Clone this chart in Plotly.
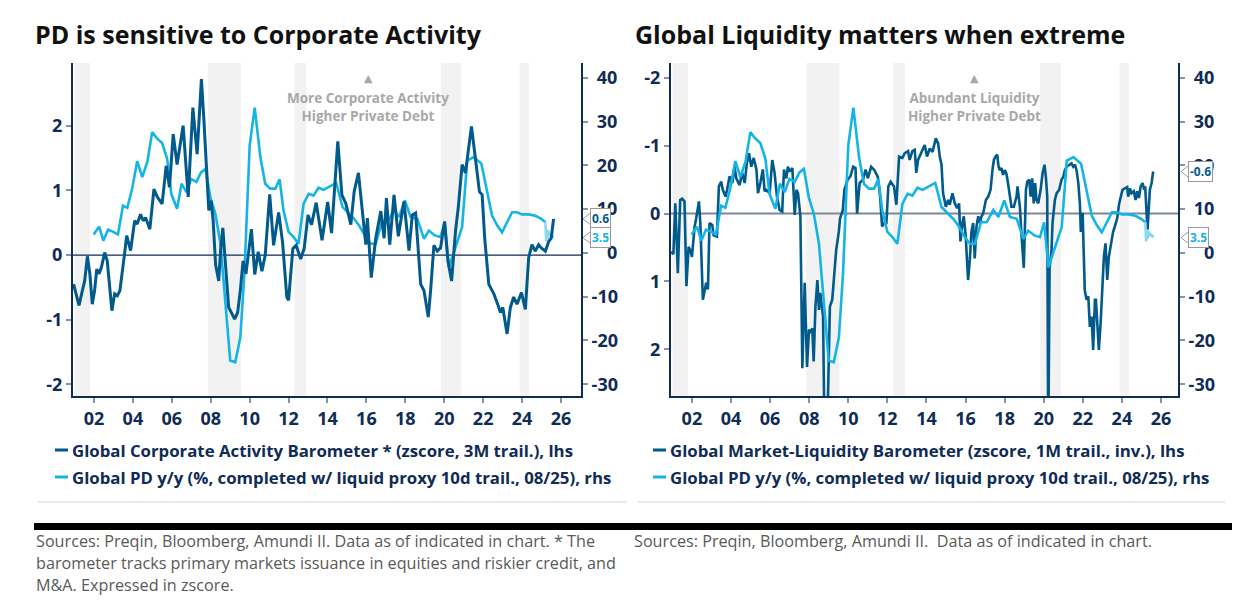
import plotly.graph_objects as go

# ---------------- DATA ----------------
tick_years = [2002, 2004, 2006, 2008, 2010, 2012, 2014, 2016, 2018, 2020, 2022, 2024, 2026]
tick_labels = ["02", "04", "06", "08", "10", "12", "14", "16", "18", "20", "22", "24", "26"]

rhs_ticks = [-30, -20, -10, 0, 10, 20, 30, 40]
rhs_labels = ["-30", "-20", "-10", "\u2007\u20080", "\u200810", "\u200820", "\u200830", "\u200840"]
lhs_ticks = [-2, -1, 0, 1, 2]
lhs_labels = ["-2", "-1", "0", "1", "2"]

# shaded periods (start, end) in decimal years
shade_start = [2001.0, 2007.85, 2012.3, 2019.82, 2023.88]
shade_end = [2001.8, 2009.55, 2012.9, 2020.88, 2024.35]

# Global PD y/y (%), rhs
pd_dates = [2001.98, 2002.26, 2002.48, 2002.72, 2002.99, 2003.23, 2003.49, 2003.71, 2003.97, 2004.22,
            2004.48, 2004.74, 2004.99, 2005.25, 2005.50, 2005.76, 2005.97, 2006.27, 2006.50, 2006.75,
            2006.99, 2007.26, 2007.50, 2007.73, 2007.98, 2008.24, 2008.50, 2008.70, 2009.00, 2009.26,
            2009.52, 2009.73, 2010.00, 2010.26, 2010.55, 2010.80, 2011.06, 2011.32, 2011.54, 2011.74,
            2012.00, 2012.26, 2012.51, 2012.77, 2013.03, 2013.28, 2013.54, 2013.80, 2014.05, 2014.45,
            2014.77, 2015.11, 2015.37, 2015.62, 2015.97, 2016.22, 2016.48, 2016.79, 2017.08, 2017.42,
            2017.68, 2017.98, 2018.27, 2018.62, 2018.96, 2019.21, 2019.52, 2019.81, 2020.02, 2020.24,
            2020.58, 2020.92, 2021.18, 2021.52, 2021.91, 2022.12, 2022.46, 2022.72, 2022.97, 2023.23,
            2023.49, 2023.74, 2024.00, 2024.34, 2024.68, 2024.99, 2025.20]
pd_values = [4.2, 6.0, 2.8, 5.3, 4.8, 4.2, 10.8, 10.3, 14.9, 21.0,
             17.3, 20.8, 27.6, 26.1, 25.1, 21.5, 13.5, 10.1, 15.8, 13.9,
             16.9, 16.2, 18.4, 19.2, 12.7, 8.9, 2.1, -9.4, -24.6, -25.0,
             -19.3, -4.8, 24.5, 33.2, 21.9, 15.8, 14.7, 14.7, 16.8, 9.7,
             4.8, 3.6, 2.1, 11.2, 13.5, 13.1, 14.9, 14.4, 15.0, 16.0,
             10.5, 8.9, 7.8, 6.3, 3.6, 2.1, 2.1, 7.0, 7.0, 9.8,
             8.2, 12.0, 8.2, 7.8, 3.2, 5.1, 4.0, 3.6, 7.0, -3.3,
             1.3, 5.9, 21.1, 21.9, 20.4, 15.8, 8.5, 6.3, 4.7, 7.0,
             9.3, 9.3, 8.8, 8.8, 8.5, 7.8, 7.0]

# liquid proxy completion (10d trail.)
proxy_dates = [2025.20, 2025.24, 2025.28, 2025.32, 2025.36, 2025.40, 2025.44, 2025.48, 2025.52, 2025.56, 2025.60]
proxy_values = [7.0, 2.6, 5.4, 3.2, 5.0, 3.9, 4.6, 3.8, 4.2, 3.7, 3.5]

# Global Corporate Activity Barometer (zscore, 3M trail.), lhs
corp_dates = [2000.95, 2001.23, 2001.40, 2001.52, 2001.66, 2001.79, 2001.91, 2002.03, 2002.14, 2002.26,
              2002.38, 2002.55, 2002.68, 2002.82, 2002.92, 2003.06, 2003.20, 2003.33, 2003.45, 2003.57,
              2003.68, 2003.88, 2004.09, 2004.22, 2004.39, 2004.53, 2004.65, 2004.87, 2005.08, 2005.25,
              2005.50, 2005.71, 2005.88, 2006.07, 2006.27, 2006.58, 2006.84, 2007.08, 2007.30, 2007.52,
              2007.64, 2007.90, 2008.02, 2008.12, 2008.25, 2008.41, 2008.50, 2008.62, 2008.92, 2009.09,
              2009.23, 2009.38, 2009.52, 2009.66, 2009.81, 2010.09, 2010.26, 2010.44, 2010.63, 2010.80,
              2011.03, 2011.23, 2011.49, 2011.69, 2011.91, 2012.00, 2012.22, 2012.39, 2012.62, 2012.80,
              2013.00, 2013.18, 2013.42, 2013.72, 2014.01, 2014.21, 2014.53, 2014.74, 2014.94, 2015.20,
              2015.37, 2015.59, 2015.79, 2015.97, 2016.05, 2016.25, 2016.48, 2016.74, 2016.91, 2017.03,
              2017.20, 2017.42, 2017.64, 2017.93, 2018.19, 2018.36, 2018.53, 2018.79, 2018.96, 2019.18,
              2019.30, 2019.47, 2019.64, 2019.81, 2020.02, 2020.19, 2020.38, 2020.58, 2020.72, 2020.92,
              2021.09, 2021.40, 2021.60, 2021.81, 2021.95, 2022.08, 2022.29, 2022.55, 2022.77, 2022.89,
              2023.01, 2023.23, 2023.40, 2023.57, 2023.74, 2023.97, 2024.17, 2024.34, 2024.51, 2024.68,
              2024.85, 2024.99, 2025.20, 2025.37, 2025.50, 2025.62]
corp_values = [-0.45, -0.78, -0.55, -0.40, -0.02, -0.30, -0.76, -0.55, -0.22, -0.29,
               -0.19, 0.04, -0.09, -0.55, -0.86, -0.60, -0.63, -0.55, -0.29, 0.02,
               0.30, 0.07, 0.53, 0.48, 0.63, 0.53, 0.58, 0.40, 1.02, 0.90,
               0.79, 1.38, 1.05, 1.87, 1.40, 2.00, 0.90, 2.28, 1.56, 2.72,
               2.13, 0.69, 0.84, 0.55, -0.15, -0.40, 0.05, 0.42, -0.81, -0.91,
               -0.99, -0.89, -0.55, -0.09, -0.29, 0.40, -0.30, 0.05, -0.25, 0.00,
               0.94, 0.15, 0.66, 0.20, -0.65, -0.70, 0.10, 0.15, -0.06, 0.10,
               0.62, 0.47, 0.81, 0.23, 0.82, 0.34, 1.76, 0.93, 0.80, 0.47,
               0.98, 1.27, 0.68, 0.16, 0.57, -0.35, 0.26, 0.68, 0.26, 0.88,
               0.16, 0.93, 0.29, 0.83, 0.07, 0.62, 0.65, -0.45, -0.55, -0.96,
               -0.55, 0.15, 0.06, 0.11, 0.52, -0.09, -0.40, 0.37, 0.73, 1.40,
               1.27, 1.99, 1.50, 0.98, 0.93, 0.26, -0.45, -0.60, -0.78, -0.89,
               -0.81, -1.22, -0.81, -0.65, -0.76, -0.58, -0.84, -0.04, 0.16, 0.06,
               0.16, 0.11, 0.06, 0.21, 0.26, 0.56]

# Global Market-Liquidity Barometer (zscore, 1M trail., inv.), lhs
liq_dates = [2000.94, 2001.05, 2001.15, 2001.28, 2001.40, 2001.50, 2001.62, 2001.72, 2001.83, 2001.92,
             2002.00, 2002.14, 2002.22, 2002.36, 2002.43, 2002.56, 2002.73, 2002.82, 2002.90, 2003.04,
             2003.11, 2003.28, 2003.38, 2003.50, 2003.58, 2003.72, 2003.80, 2003.93, 2004.07, 2004.18,
             2004.27, 2004.44, 2004.57, 2004.70, 2004.81, 2004.92, 2005.04, 2005.16, 2005.30, 2005.38,
             2005.50, 2005.63, 2005.72, 2005.80, 2005.98, 2006.11, 2006.23, 2006.35, 2006.49, 2006.62,
             2006.71, 2006.83, 2006.91, 2007.00, 2007.14, 2007.26, 2007.35, 2007.43, 2007.55, 2007.65,
             2007.77, 2007.89, 2007.99, 2008.08, 2008.16, 2008.23, 2008.32, 2008.42, 2008.50, 2008.57,
             2008.71, 2008.78, 2008.94, 2009.06, 2009.18, 2009.38, 2009.52, 2009.58, 2009.72, 2009.80,
             2009.97, 2010.11, 2010.25, 2010.37, 2010.45, 2010.58, 2010.75, 2010.89, 2011.00, 2011.17,
             2011.34, 2011.51, 2011.63, 2011.73, 2011.85, 2011.95, 2012.05, 2012.17, 2012.34, 2012.46,
             2012.60, 2012.77, 2012.89, 2013.06, 2013.14, 2013.28, 2013.40, 2013.48, 2013.57, 2013.74,
             2013.91, 2014.03, 2014.17, 2014.31, 2014.48, 2014.60, 2014.68, 2014.77, 2014.85, 2014.99,
             2015.11, 2015.19, 2015.33, 2015.45, 2015.57, 2015.67, 2015.74, 2015.84, 2015.91, 2016.01,
             2016.13, 2016.22, 2016.30, 2016.39, 2016.47, 2016.56, 2016.65, 2016.73, 2016.82, 2016.90,
             2017.04, 2017.16, 2017.28, 2017.38, 2017.45, 2017.53, 2017.62, 2017.69, 2017.75, 2017.84,
             2017.92, 2018.01, 2018.09, 2018.15, 2018.21, 2018.27, 2018.35, 2018.47, 2018.61, 2018.66,
             2018.78, 2018.86, 2018.98, 2019.09, 2019.16, 2019.26, 2019.33, 2019.41, 2019.49, 2019.56,
             2019.63, 2019.72, 2019.84, 2019.94, 2020.04, 2020.11, 2020.18, 2020.23, 2020.30, 2020.40,
             2020.45, 2020.57, 2020.66, 2020.79, 2020.91, 2021.00, 2021.08, 2021.17, 2021.30, 2021.42,
             2021.51, 2021.60, 2021.68, 2021.77, 2021.85, 2021.90, 2021.99, 2022.05, 2022.10, 2022.19,
             2022.28, 2022.36, 2022.45, 2022.53, 2022.62, 2022.67, 2022.74, 2022.82, 2022.91, 2022.99,
             2023.08, 2023.16, 2023.25, 2023.33, 2023.43, 2023.55, 2023.64, 2023.76, 2023.86, 2023.93,
             2024.03, 2024.15, 2024.27, 2024.32, 2024.41, 2024.49, 2024.61, 2024.70, 2024.78, 2024.87,
             2024.96, 2025.06, 2025.14, 2025.19, 2025.26, 2025.31, 2025.38, 2025.43, 2025.52, 2025.60]
liq_values = [0.56, 0.60, -0.15, 0.88, -0.20, -0.22, -0.18, 1.07, 0.49, 0.54,
              0.64, 0.19, 0.07, -0.18, 0.14, 1.27, 1.02, 1.12, 0.14, 0.17,
              0.32, 0.34, -0.40, -0.47, -0.35, -0.25, -0.35, -0.55, -0.45, -0.69,
              -0.52, -0.42, -0.60, -0.45, -0.74, -0.89, -0.69, -0.82, -0.65, -0.30,
              -0.45, -0.65, -0.33, -0.35, -0.30, -0.79, -0.60, -0.25, -0.05, -0.03,
              -0.65, -0.52, -0.69, -0.62, -0.67, 0.02, -0.35, -0.30, 0.04, 2.28,
              1.02, 2.26, 1.71, 1.76, 1.69, 2.18, 1.37, 0.98, 1.42, 1.17,
              1.52, 3.20, 3.00, 1.37, 1.27, 0.54, 0.26, 0.07, -0.05, -0.35,
              -0.50, -0.55, -0.69, -0.67, 0.00, -0.45, -0.50, -0.65, -0.52, -0.69,
              -0.64, -0.54, -0.25, 0.19, 0.14, 0.14, -0.40, -0.47, -0.40, -0.13,
              -0.84, -0.82, -0.89, -0.92, -0.79, -0.92, -0.94, -0.60, -0.79, -0.89,
              -1.01, -0.84, -0.96, -0.91, -1.11, -1.03, -0.84, -0.72, -0.30, -0.10,
              -0.20, -0.13, -0.30, -0.15, -0.08, -0.15, 0.41, 0.14, 0.04, 0.34,
              0.98, 0.68, 0.27, 0.14, 0.66, 0.19, 0.04, 0.14, 0.04, 0.00,
              -0.20, -0.25, -0.35, -0.65, -0.79, -0.84, -0.87, -0.69, -0.64, -0.67,
              -0.57, -0.64, -0.59, -0.49, -0.35, -0.30, -0.10, -0.10, -0.25, -0.40,
              -0.10, 0.30, 0.80, -0.35, -0.47, -0.50, -0.25, -0.52, -0.15, -0.45,
              -0.20, -0.15, -0.35, -0.59, -0.72, -0.54, -0.25, 3.50, 0.80, 0.54,
              0.14, -0.20, -0.30, -0.35, -0.50, -0.54, -0.64, -0.69, -0.72, -0.74,
              -0.69, -0.72, -0.64, -0.45, -0.15, 0.27, -0.01, 0.54, 1.13, 1.27,
              1.22, 1.67, 1.52, 2.01, 1.27, 1.27, 1.57, 2.01, 1.62, 1.22,
              0.63, 0.44, 0.98, 0.64, 0.44, 0.27, 0.19, 0.07, -0.15, -0.25,
              -0.35, -0.37, -0.39, -0.25, -0.37, -0.30, -0.33, -0.20, -0.33, -0.23,
              -0.40, -0.45, -0.35, -0.40, 0.05, 0.24, -0.10, -0.35, -0.45, -0.62]

assert len(pd_dates) == len(pd_values)
assert len(corp_dates) == len(corp_values)
assert len(liq_dates) == len(liq_values)
assert len(proxy_dates) == len(proxy_values)

# ---------------- STYLE ----------------
PAGE_W, PAGE_H = 1248, 602
OFF = 8                      # default body margin of the html page
W, H = PAGE_W - OFF, PAGE_H - OFF
NAVY = "#0f2b57"
DARK = "#005a8c"
LIGHT = "#14b4e6"
PROXY = "#8ad8f2"
NOTE_GREY = "#a8a8a8"
SHADE = "#f2f2f2"
TICK_GREY = "#8a93a5"
FONT = "Open Sans"


def fx(p):
    """page pixel x -> paper fraction"""
    return (p - OFF) / W


def fy(p):
    """page pixel y -> paper fraction"""
    return 1 - (p - OFF) / H


fig = go.Figure()

# Left chart: PD on base axis (rhs), corporate barometer on overlay axis (lhs)
fig.add_trace(go.Scatter(x=pd_dates, y=pd_values, xaxis="x", yaxis="y", mode="lines",
                         line=dict(color=LIGHT, width=2.6), name="PD"))
fig.add_trace(go.Scatter(x=proxy_dates, y=proxy_values, xaxis="x", yaxis="y", mode="lines",
                         line=dict(color=PROXY, width=2.6), name="proxy"))
fig.add_trace(go.Scatter(x=corp_dates, y=corp_values, xaxis="x", yaxis="y2", mode="lines",
                         line=dict(color=DARK, width=3), name="corp"))

# Right chart: liquidity barometer on base (lhs, inverted), PD on overlay (rhs)
fig.add_trace(go.Scatter(x=liq_dates, y=liq_values, xaxis="x2", yaxis="y3", mode="lines",
                         line=dict(color=DARK, width=2.6), name="liq"))
fig.add_trace(go.Scatter(x=pd_dates, y=pd_values, xaxis="x2", yaxis="y4", mode="lines",
                         line=dict(color=LIGHT, width=2.6), name="PD2"))
fig.add_trace(go.Scatter(x=proxy_dates, y=proxy_values, xaxis="x2", yaxis="y4", mode="lines",
                         line=dict(color=PROXY, width=2.6), name="proxy2"))

tickfont = dict(family=FONT, size=18, color=NAVY, weight="bold")
ax = dict(showline=True, linecolor=NAVY, linewidth=2, ticks="outside", ticklen=5, tickwidth=1.5,
          tickcolor=TICK_GREY, tickfont=tickfont, showgrid=False, zeroline=False)

ydom = [fy(396), fy(63)]

fig.update_layout(
    width=W, height=H, margin=dict(l=0, r=0, t=0, b=0),
    paper_bgcolor="white", plot_bgcolor="white", showlegend=False,
    xaxis=dict(**ax, domain=[fx(73), fx(581)], range=[2000.92, 2027.03], tickvals=tick_years,
               ticktext=tick_labels, anchor="y", ticklabelstandoff=0),
    yaxis=dict(**ax, domain=ydom, range=[-32.7, 43.4], side="right", anchor="x",
               tickvals=rhs_ticks, ticktext=rhs_labels),
    yaxis2=dict(**ax, range=[-2.18, 2.97], side="left", overlaying="y", anchor="x",
                tickvals=lhs_ticks, ticktext=lhs_labels),
    xaxis2=dict(**ax, domain=[fx(671), fx(1178)], range=[2000.93, 2026.87], tickvals=tick_years,
                ticktext=tick_labels, anchor="y3", ticklabelstandoff=0),
    yaxis3=dict(**ax, domain=ydom, range=[2.69, -2.22], side="left", anchor="x2",
                tickvals=lhs_ticks, ticktext=lhs_labels),
    yaxis4=dict(**ax, range=[-32.7, 43.4], side="right", overlaying="y3", anchor="x2",
                tickvals=rhs_ticks, ticktext=rhs_labels),
)

shapes = []
for a, b in zip(shade_start, shade_end):
    shapes.append(dict(type="rect", xref="x", yref="y domain", x0=a, x1=b, y0=0, y1=1,
                       fillcolor=SHADE, line=dict(width=0), layer="below"))
    shapes.append(dict(type="rect", xref="x2", yref="y3 domain", x0=a, x1=b, y0=0, y1=1,
                       fillcolor=SHADE, line=dict(width=0), layer="below"))
# zero lines (lhs)
shapes.append(dict(type="line", xref="x domain", yref="y2", x0=0, x1=1, y0=0, y1=0,
                   line=dict(color=NAVY, width=1.3), layer="below"))
shapes.append(dict(type="line", xref="x2 domain", yref="y3", x0=0, x1=1, y0=0, y1=0,
                   line=dict(color="#7b879b", width=2), layer="below"))

annotations = []


def flag(xtip, yref, yval, color):
    shapes.append(dict(type="path", xref="paper", xsizemode="pixel", xanchor=fx(xtip),
                       yref=yref, ysizemode="pixel", yanchor=yval,
                       path="M0,0 L9,7 L9,-7 Z", fillcolor="white",
                       line=dict(color="#9a9a9a", width=1), layer="above"))
    annotations.append(dict(xref="paper", x=fx(xtip + 7), xanchor="left", yref=yref, y=yval,
                            yanchor="middle", text=f"{yval:.1f}", showarrow=False,
                            font=dict(family=FONT, size=12, color=color, weight="bold"),
                            bgcolor="white", bordercolor="#9a9a9a", borderwidth=1, borderpad=1))


flag(583, "y2", corp_values[-1], DARK)
flag(583, "y", proxy_values[-1], LIGHT)
flag(1181, "y3", liq_values[-1], DARK)
flag(1181, "y4", proxy_values[-1], LIGHT)

# titles
for xpx, t in [(33, "PD is sensitive to Corporate Activity"), (633, "Global Liquidity matters when extreme")]:
    annotations.append(dict(xref="paper", yref="paper", x=fx(xpx), y=fy(34), xanchor="left",
                            yanchor="middle", text=t, showarrow=False,
                            font=dict(family=FONT, size=25, color="#111111", weight="bold")))

# in-chart notes
for xc, t in [(368, "More Corporate Activity<br>Higher Private Debt"),
              (975, "Abundant Liquidity<br>Higher Private Debt")]:
    annotations.append(dict(xref="paper", yref="paper", x=fx(xc), y=fy(79), xanchor="center",
                            yanchor="middle", text="▲", showarrow=False,
                            font=dict(family="DejaVu Sans", size=11, color=NOTE_GREY)))
    annotations.append(dict(xref="paper", yref="paper", x=fx(xc), y=fy(107), xanchor="center",
                            yanchor="middle", text=t, showarrow=False,
                            font=dict(family=FONT, size=13.5, color=NOTE_GREY, weight="bold")))

# legends
legend_items = [
    (55, 450, DARK, "Global Corporate Activity Barometer * (zscore, 3M trail.), lhs"),
    (55, 477, LIGHT, "Global PD y/y (%, completed w/ liquid proxy 10d trail., 08/25), rhs"),
    (653, 450, DARK, "Global Market-Liquidity Barometer (zscore, 1M trail., inv.), lhs"),
    (653, 477, LIGHT, "Global PD y/y (%, completed w/ liquid proxy 10d trail., 08/25), rhs"),
]
for xpx, ypx, col, t in legend_items:
    shapes.append(dict(type="line", xref="paper", yref="paper", x0=fx(xpx), x1=fx(xpx + 13),
                       y0=fy(ypx), y1=fy(ypx), line=dict(color=col, width=3)))
    annotations.append(dict(xref="paper", yref="paper", x=fx(xpx + 15), y=fy(ypx), xanchor="left",
                            yanchor="middle", text=t, showarrow=False,
                            font=dict(family=FONT, size=16.8, color=NAVY, weight="bold")))

# separators
shapes.append(dict(type="line", xref="paper", yref="paper", x0=fx(38), x1=fx(627), y0=fy(502), y1=fy(502),
                   line=dict(color="#e2e2e2", width=1.5)))
shapes.append(dict(type="line", xref="paper", yref="paper", x0=fx(638), x1=fx(1225), y0=fy(502), y1=fy(502),
                   line=dict(color="#e2e2e2", width=1.5)))
shapes.append(dict(type="rect", xref="paper", yref="paper", x0=fx(34), x1=fx(1232), y0=fy(530), y1=fy(523),
                   fillcolor="black", line=dict(width=0)))

# sources
src_left = ["Sources: Preqin, Bloomberg, Amundi II. Data as of indicated in chart. * The",
            "barometer tracks primary markets issuance in equities and riskier credit, and",
            "M&A. Expressed in zscore."]
for i, line in enumerate(src_left):
    annotations.append(dict(xref="paper", yref="paper", x=fx(34), y=fy(541 + 22 * i), xanchor="left",
                            yanchor="middle", text=line, showarrow=False,
                            font=dict(family=FONT, size=16.2, color="#595959")))
annotations.append(dict(xref="paper", yref="paper", x=fx(632), y=fy(541), xanchor="left",
                        yanchor="middle", text="Sources: Preqin, Bloomberg, Amundi II.  Data as of indicated in chart.",
                        showarrow=False, font=dict(family=FONT, size=16.2, color="#595959")))

fig.update_layout(shapes=shapes, annotations=annotations)
fig.write_html("out.html")
